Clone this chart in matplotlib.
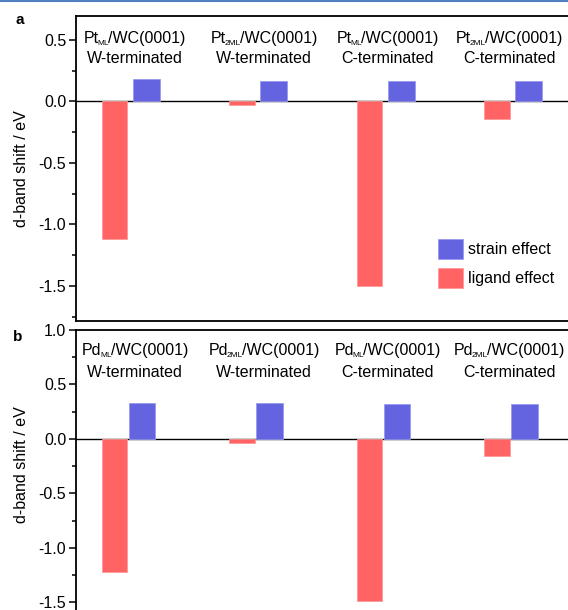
import matplotlib
matplotlib.use("Agg")
import matplotlib.pyplot as plt
from matplotlib.lines import Line2D
from matplotlib.patches import Patch
from matplotlib.ticker import MultipleLocator, FuncFormatter
from matplotlib.transforms import ScaledTranslation
import numpy as np

plt.rcParams['font.family'] = ['Liberation Sans', 'DejaVu Sans']

# ---- data ----
groups = [1, 2, 3, 4]
pt_metal = ['Pt', 'Pt', 'Pt', 'Pt']
pd_metal = ['Pd', 'Pd', 'Pd', 'Pd']
layers = ['ML', '2ML', 'ML', '2ML']
support = '/WC(0001)'
line2 = ['W-terminated', 'W-terminated', 'C-terminated', 'C-terminated']

pt_ligand = [-1.12, -0.025, -1.50, -0.14]
pt_strain = [0.18, 0.17, 0.17, 0.17]
pd_ligand = [-1.22, -0.035, -1.49, -0.16]
pd_strain = [0.33, 0.33, 0.32, 0.32]

red = '#FF6363'
blue = '#6464E0'
red_edge = '#FF9A9A'
blue_edge = '#9A9AEE'

W, H = 568, 610
fig = plt.figure(figsize=(W / 100, H / 100), dpi=100)
renderer = fig.canvas.get_renderer()

AX_LEFT, AX_RIGHT = 76, 571
PX_PER_UNIT = 127.5
XMIN = 0.573
label_x_px = [135, 264, 387.5, 509]   # label centres (layout)

def px_to_x(px):
    return (px - AX_LEFT) / PX_PER_UNIT + XMIN

def px_axes(left, top, right, bottom):
    return fig.add_axes([left / W, 1 - bottom / H, (right - left) / W, (bottom - top) / H])

FS = 11.5
SUB = 6
x = np.array(groups, dtype=float)

def style(ax, ylim):
    ax.set_xlim(XMIN, XMIN + (AX_RIGHT - AX_LEFT) / PX_PER_UNIT)
    ax.set_ylim(*ylim)
    ax.spines['right'].set_visible(False)
    for s in ['left', 'top', 'bottom']:
        ax.spines[s].set_linewidth(1.3)
    ax.set_xticks([])
    ax.yaxis.set_major_locator(MultipleLocator(0.5))
    ax.yaxis.set_minor_locator(MultipleLocator(0.25))
    ax.tick_params(axis='y', which='major', direction='out', length=5, width=1.1,
                   labelsize=FS, pad=2)
    ax.tick_params(axis='y', which='minor', direction='out', length=3, width=1.1)
    ax.yaxis.set_major_formatter(FuncFormatter(lambda v, p: f'{v:.1f}'))
    ax.axhline(0, color='black', lw=1.0, zorder=1)
    ax.set_ylabel('d-band shift / eV', fontsize=FS)

def composite(ax, xc, yfrac, parts):
    """parts: list of (string, fontsize, dy_px, kern_px); centered at xc (data) / yfrac (axes)."""
    base = ax.get_xaxis_transform()
    texts = []
    for s, fs, dy, kern in parts:
        t = ax.text(xc, yfrac, s, fontsize=fs, transform=base, ha='left', va='baseline')
        texts.append((t, dy, kern))
    widths = [t.get_window_extent(renderer).width for t, _, _ in texts]
    total = sum(widths) + sum(k for _, _, k in texts)
    off = -total / 2
    for (t, dy, kern), w in zip(texts, widths):
        off += kern
        t.set_transform(base + ScaledTranslation(off / 100, -dy / 100, fig.dpi_scale_trans))
        off += w

def panel(ax, metal, ligand, strain, blue_off, ylim, ylab_y, y1, y2):
    ax.bar(x - 0.125, ligand, width=0.2, color=red, edgecolor=red_edge, linewidth=0.6, zorder=2)
    ax.bar(x + blue_off, strain, width=0.21, color=blue, edgecolor=blue_edge, linewidth=0.6, zorder=2)
    style(ax, ylim)
    ax.yaxis.set_label_coords(-0.095, ylab_y)
    for i, g in enumerate(groups):
        xc = px_to_x(label_x_px[i])
        composite(ax, xc, y1, [(metal[i], FS, 0, 0), (layers[i], SUB, 2, -1.5),
                               (support, FS, 0, -1.0)])
        ax.text(xc, y2, line2[i], transform=ax.get_xaxis_transform(),
                ha='center', va='baseline', fontsize=FS)

# Panel a
axa = px_axes(AX_LEFT, 16, AX_RIGHT, 321)
panel(axa, pt_metal, pt_ligand, pt_strain, 0.125, (-1.785, 0.695), 0.5, 0.9115, 0.846)

handles = [Patch(facecolor=blue, edgecolor=blue_edge, linewidth=0.6, label='strain effect'),
           Patch(facecolor=red, edgecolor=red_edge, linewidth=0.6, label='ligand effect')]
axa.legend(handles=handles, loc='upper left', bbox_to_anchor=(438 / W, 1 - 239 / H),
           bbox_transform=fig.transFigure, frameon=False, fontsize=FS,
           handlelength=1.55, handleheight=1.55, labelspacing=0.55,
           handletextpad=0.3, borderpad=0, borderaxespad=0)

# Panel b
axb = px_axes(AX_LEFT, 330, AX_RIGHT, 635)
panel(axb, pd_metal, pd_ligand, pd_strain, 0.09, (-1.8, 1.0), 0.557, 0.918, 0.846)

fig.text(20 / W, 1 - 20 / H, 'a', fontsize=11, fontweight='bold', ha='center', va='center')
fig.text(18 / W, 1 - 337 / H, 'b', fontsize=11, fontweight='bold', ha='center', va='center')

fig.add_artist(Line2D([0, 1], [1 - 1 / H, 1 - 1 / H], transform=fig.transFigure,
                      color='#4F7FBF', lw=1.5))

fig.savefig('out.png', dpi=100)
